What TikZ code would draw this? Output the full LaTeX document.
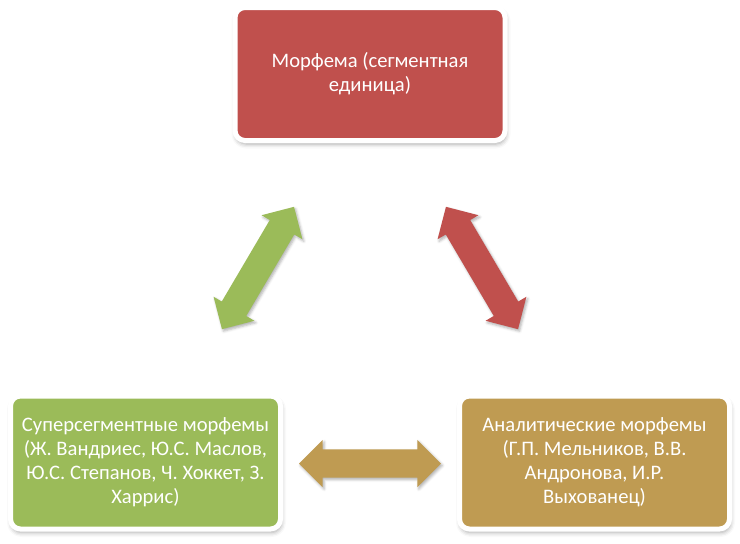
\documentclass[tikz,border=0pt]{standalone}
\usepackage{fontspec}
\setmainfont{Carlito}
\usetikzlibrary{shapes.arrows,shadows.blur}
\definecolor{boxred}{HTML}{C0504D}
\definecolor{boxgreen}{HTML}{9BBB59}
\definecolor{boxgold}{HTML}{BF9B52}
\begin{document}
\begin{tikzpicture}[x=1pt,y=-1pt,
  card/.style={rounded corners=10pt, draw=white, line width=5pt,
    minimum width=270pt, minimum height=133pt, text=white, align=center,
    font=\fontsize{20.6}{24}\selectfont, inner sep=0pt,
    blur shadow={shadow xshift=1pt, shadow yshift=-3.5pt, shadow blur radius=4.5pt, shadow opacity=35}},
  dblarrow/.style={double arrow, double arrow head extend=9.5pt,
    inner xsep=0pt, inner ysep=14pt, minimum height=142pt,
    blur shadow={shadow xshift=1.5pt, shadow yshift=-2pt, shadow blur radius=2.5pt, shadow opacity=30}}]
\useasboundingbox (0,0) rectangle (740,544);
\node[card, fill=boxred] (top) at (370,74) {Морфема (сегментная\\единица)};
\node[card, fill=boxgreen] (left) at (145.5,462.5) {Суперсегментные морфемы\\(Ж. Вандриес, Ю.С. Маслов,\\Ю.С. Степанов, Ч. Хоккет, З.\\Харрис)};
\node[card, fill=boxgold] (right) at (594.5,462.5) {Аналитические морфемы\\(Г.П. Мельников, В.В.\\Андронова, И.Р.\\Выхованец)};
\node[dblarrow, fill=boxgreen, rotate=59.5] (aleft) at (258,268) {};
\node[dblarrow, fill=boxred, rotate=-59.5] (aright) at (482,268) {};
\node[dblarrow, fill=boxgold] (abottom) at (370,463.5) {};
\end{tikzpicture}
\end{document}
